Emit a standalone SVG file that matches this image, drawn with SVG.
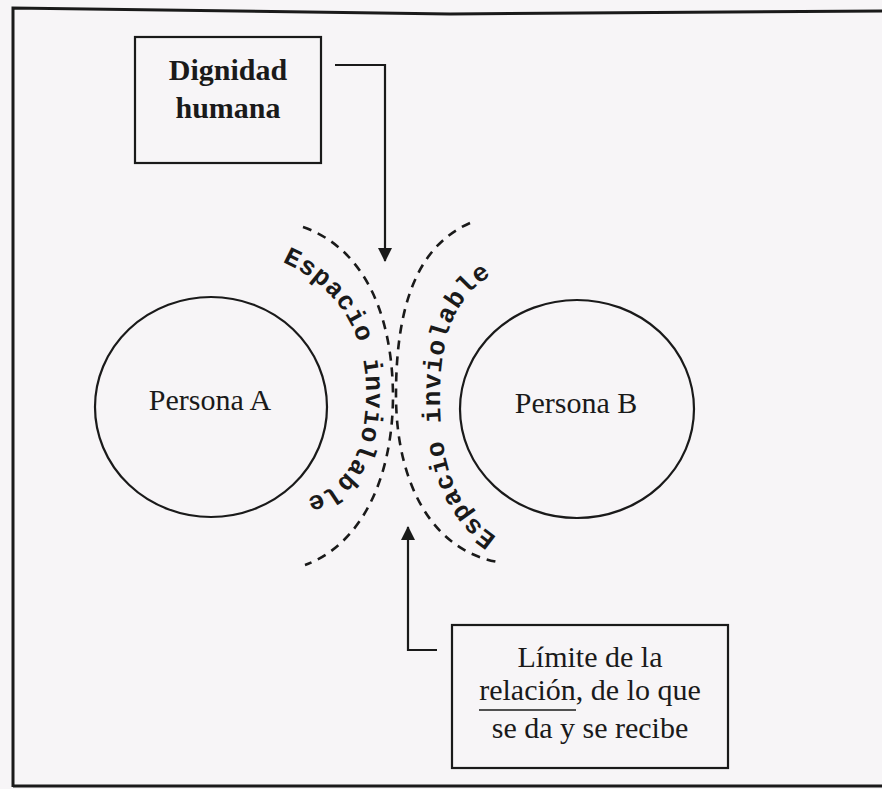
<svg xmlns="http://www.w3.org/2000/svg" width="882" height="789" viewBox="0 0 882 789">
  <style>
    .frame { fill: none; stroke: #1a1a1a; stroke-width: 3; }
    .box { fill: none; stroke: #1a1a1a; stroke-width: 2.2; }
    .circ { fill: none; stroke: #1a1a1a; stroke-width: 2.2; }
    .dash { fill: none; stroke: #1a1a1a; stroke-width: 2.6; stroke-dasharray: 9 7; }
    .conn { fill: none; stroke: #1a1a1a; stroke-width: 2.2; }
    .serif { font-family: "Liberation Serif", "Times New Roman", serif; fill: #1a1a1a; }
    .bold { font-weight: bold; }
    .mono { font-family: "Liberation Mono", "Courier New", monospace; font-size: 26px; font-weight: bold; fill: #1a1a1a; letter-spacing: 0.9px; }
  </style>
  <defs>
    <marker id="arrow" viewBox="0 0 14 14" refX="13" refY="7" markerWidth="14" markerHeight="14" markerUnits="userSpaceOnUse" orient="auto">
      <path d="M0,0 L14,7 L0,14 Z" fill="#1a1a1a"/>
    </marker>
    <path id="arcLeft" d="M 282,262 C 335,285 366,330 366,392 C 366,455 345,492 298,500"/>
    <path id="arcRight" d="M 497,537 C 455,510 440,460 440,400 C 440,335 455,295 497,272"/>
  </defs>

  <rect x="0" y="0" width="882" height="789" fill="#f7f5f7"/>

  <g id="frame">
    <polyline class="frame" points="13,787 13,8 450,14 882,11"/>
    <line class="frame" x1="13" y1="786" x2="882" y2="786"/>
  </g>

  <g id="node-dignidad">
    <rect class="box" x="135" y="37" width="186" height="126"/>
    <text class="serif bold" x="228" y="80" font-size="30" text-anchor="middle">Dignidad</text>
    <text class="serif bold" x="228" y="118" font-size="30" text-anchor="middle">humana</text>
  </g>

  <g id="node-persona-a">
    <ellipse class="circ" cx="211" cy="407" rx="116" ry="110"/>
    <text class="serif" x="210" y="410" font-size="30" text-anchor="middle">Persona A</text>
  </g>

  <g id="node-persona-b">
    <ellipse class="circ" cx="577" cy="409" rx="117" ry="109"/>
    <text class="serif" x="576" y="413" font-size="30" text-anchor="middle">Persona B</text>
  </g>

  <g id="node-espacio">
    <path class="dash" d="M303,227 C355,245 392,300 393,395 C393,480 360,545 305,565"/>
    <path class="dash" d="M470,223 C420,245 396,300 396,395 C396,480 430,550 498,562"/>
    <text class="mono"><textPath href="#arcLeft">Espacio inviolable</textPath></text>
    <text class="mono"><textPath href="#arcRight">Espacio inviolable</textPath></text>
  </g>

  <g id="node-limite">
    <rect class="box" x="452" y="625" width="276" height="143"/>
    <text class="serif" x="590" y="667" font-size="30" text-anchor="middle">Límite de la</text>
    <text class="serif" x="590" y="700" font-size="30" text-anchor="middle">relación, de lo que</text>
    <line x1="479" y1="710" x2="576" y2="710" stroke="#1a1a1a" stroke-width="1.6"/>
    <text class="serif" x="590" y="738" font-size="30" text-anchor="middle">se da y se recibe</text>
  </g>

  <g id="connectors">
    <path class="conn" d="M335,65 L385,65 L385,261" marker-end="url(#arrow)"/>
    <path class="conn" d="M437,650 L408,650 L408,527" marker-end="url(#arrow)"/>
  </g>
</svg>
